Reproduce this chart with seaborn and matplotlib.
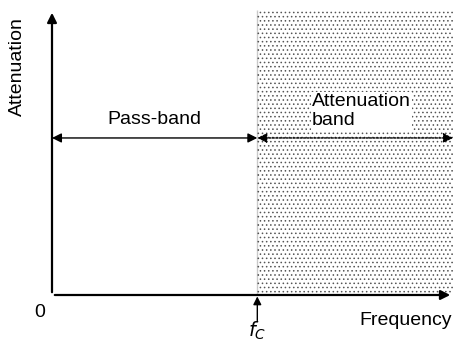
import seaborn as sns
import matplotlib.pyplot as plt
import numpy as np
import pandas as pd

sns.set_theme(style="white")
plt.rcParams['font.family'] = ['Liberation Sans', 'DejaVu Sans']
plt.rcParams['text.color'] = 'black'
plt.rcParams['hatch.linewidth'] = 0.6
plt.rcParams['hatch.color'] = '#555555'

# diagram values (normalised axes: 0..1)
cutoff = 0.512          # f_C position on frequency axis
band_level = 0.551      # height of band arrows
x_max = 1.0
y_max = 1.0
band_names = ["Pass-band", "Attenuation\nband"]
axis_names = ["Frequency", "Attenuation"]

fig = plt.figure(figsize=(4.54, 3.45), dpi=100)
ax = fig.add_axes([52 / 454, 50 / 345, 401 / 454, 285 / 345])
ax.set_xlim(0, x_max)
ax.set_ylim(0, y_max)
ax.axis("off")

# shaded attenuation region
shade = pd.DataFrame({"x": [cutoff, x_max], "y0": [0, 0], "y1": [y_max, y_max]})
ax.fill_between(shade["x"], shade["y0"], shade["y1"], facecolor="white",
                edgecolor="#555555", hatch="....", linewidth=0)

# vertical cutoff line
sns.lineplot(x=[cutoff, cutoff], y=[0, y_max], ax=ax, color="black", lw=2)

arrow = dict(arrowstyle="-|>", color="black", lw=1.6, mutation_scale=14)
# axes
ax.annotate("", xy=(0, y_max), xytext=(0, 0), arrowprops=arrow, annotation_clip=False)
ax.annotate("", xy=(x_max, 0), xytext=(0, 0), arrowprops=arrow, annotation_clip=False)

# band arrows
dbl = dict(arrowstyle="<|-|>", color="black", lw=1.0, mutation_scale=14, shrinkA=0, shrinkB=0)
ax.annotate("", xy=(0, band_level), xytext=(cutoff, band_level), arrowprops=dbl)
dbl2 = dict(dbl, linestyle=(0, (1.5, 1)))
ax.annotate("", xy=(cutoff, band_level), xytext=(x_max, band_level), arrowprops=dbl2)

# cutoff marker arrow below axis
ax.annotate("", xy=(cutoff, -0.005), xytext=(cutoff, -0.09),
            arrowprops=dict(arrowstyle="-|>", color="black", lw=1.0, mutation_scale=12,
                            shrinkA=0, shrinkB=0), annotation_clip=False)

# texts
fs = 14
ax.text(cutoff / 2, band_level + 0.035, band_names[0], ha="center", va="bottom", fontsize=fs)
ax.text(0.648, band_level + 0.03, band_names[1], ha="left", va="bottom", fontsize=fs,
        linespacing=1.2, bbox=dict(facecolor="white", edgecolor="none", pad=0.5))
ax.text(-0.03, -0.06, "0", ha="center", va="center", fontsize=fs)
ax.text(0.998, -0.09, axis_names[0], ha="right", va="center", fontsize=fs)
ax.text(cutoff, -0.125, r"$f_C$", ha="center", va="center", fontsize=fs,
        math_fontfamily="dejavusans")
ax.text(-0.085, 0.8, axis_names[1], ha="center", va="center", rotation=90, fontsize=fs)

fig.savefig("out.png", dpi=100)
